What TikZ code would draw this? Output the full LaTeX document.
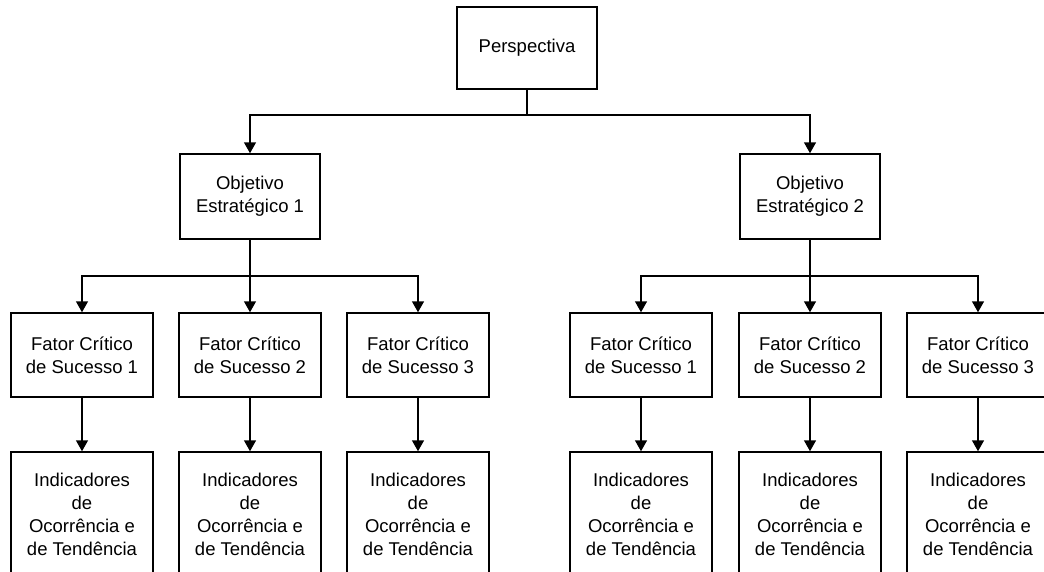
\documentclass[tikz,border=0pt]{standalone}
\usepackage{fontspec}
\setmainfont{Liberation Sans}
\usetikzlibrary{arrows.meta}

\tikzset{
  bloco/.style={rectangle, draw, line width=1.5pt, align=center,
    font=\fontsize{18.5}{23}\selectfont, inner sep=2pt},
  seta/.style={line width=1.5pt, -{Triangle[width=12pt, length=11pt]}},
}

\begin{document}
\begin{tikzpicture}[x=1pt, y=-1pt]
  \clip (0, 0) rectangle (1044, 571);

  \node (persp) [bloco, minimum width=140pt, minimum height=82pt] at (527, 48) {Perspectiva};

  \node (obj1) [bloco, minimum width=140pt, minimum height=85pt] at (250, 196.5) {Objetivo\\Estratégico 1};
  \node (obj2) [bloco, minimum width=140pt, minimum height=85pt] at (810, 196.5) {Objetivo\\Estratégico 2};

  \node (fcs11) [bloco, minimum width=142pt, minimum height=84pt] at (82, 355) {Fator Crítico\\de Sucesso 1};
  \node (fcs12) [bloco, minimum width=142pt, minimum height=84pt] at (250, 355) {Fator Crítico\\de Sucesso 2};
  \node (fcs13) [bloco, minimum width=142pt, minimum height=84pt] at (418, 355) {Fator Crítico\\de Sucesso 3};
  \node (fcs21) [bloco, minimum width=142pt, minimum height=84pt] at (641, 355) {Fator Crítico\\de Sucesso 1};
  \node (fcs22) [bloco, minimum width=142pt, minimum height=84pt] at (810, 355) {Fator Crítico\\de Sucesso 2};
  \node (fcs23) [bloco, minimum width=142pt, minimum height=84pt] at (978, 355) {Fator Crítico\\de Sucesso 3};

  \node (ind11) [bloco, minimum width=142pt, minimum height=124pt] at (82, 514) {Indicadores\\de\\Ocorrência e\\de Tendência};
  \node (ind12) [bloco, minimum width=142pt, minimum height=124pt] at (250, 514) {Indicadores\\de\\Ocorrência e\\de Tendência};
  \node (ind13) [bloco, minimum width=142pt, minimum height=124pt] at (418, 514) {Indicadores\\de\\Ocorrência e\\de Tendência};
  \node (ind21) [bloco, minimum width=142pt, minimum height=124pt] at (641, 514) {Indicadores\\de\\Ocorrência e\\de Tendência};
  \node (ind22) [bloco, minimum width=142pt, minimum height=124pt] at (810, 514) {Indicadores\\de\\Ocorrência e\\de Tendência};
  \node (ind23) [bloco, minimum width=142pt, minimum height=124pt] at (978, 514) {Indicadores\\de\\Ocorrência e\\de Tendência};

  \coordinate (barra0) at (527, 115);
  \coordinate (barra1) at (250, 276);
  \coordinate (barra2) at (810, 276);

  \draw[seta] (persp) -- (barra0) -| (obj1);
  \draw[seta] (persp) -- (barra0) -| (obj2);

  \draw[seta] (obj1) -- (barra1) -| (fcs11);
  \draw[seta] (obj1) -- (fcs12);
  \draw[seta] (obj1) -- (barra1) -| (fcs13);
  \draw[seta] (obj2) -- (barra2) -| (fcs21);
  \draw[seta] (obj2) -- (fcs22);
  \draw[seta] (obj2) -- (barra2) -| (fcs23);

  \draw[seta] (fcs11) -- (ind11);
  \draw[seta] (fcs12) -- (ind12);
  \draw[seta] (fcs13) -- (ind13);
  \draw[seta] (fcs21) -- (ind21);
  \draw[seta] (fcs22) -- (ind22);
  \draw[seta] (fcs23) -- (ind23);
\end{tikzpicture}
\end{document}
